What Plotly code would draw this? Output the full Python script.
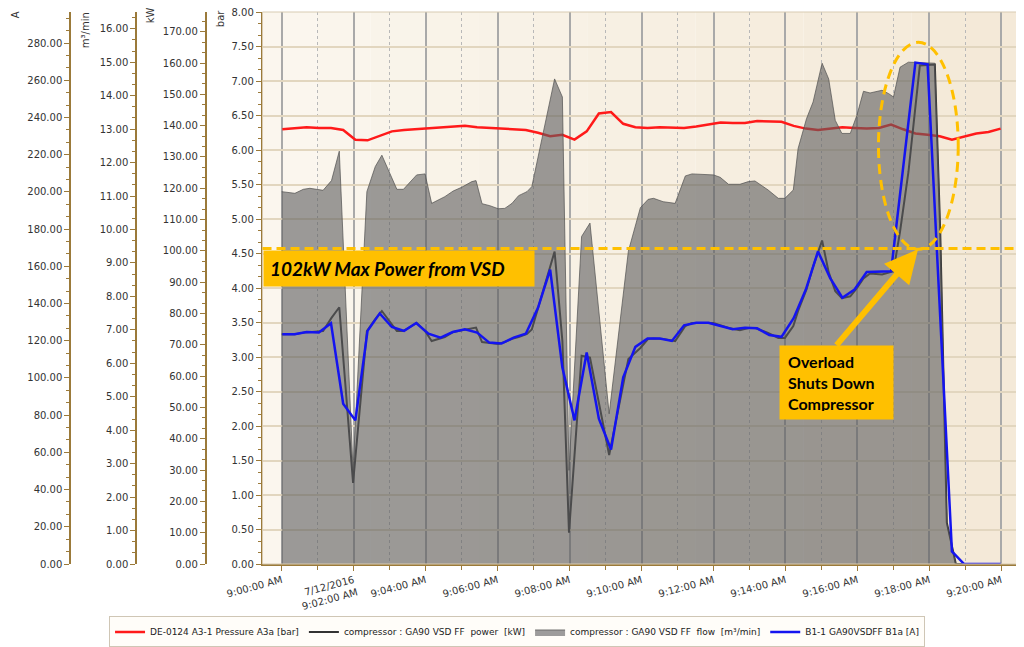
import pandas as pd
import plotly.graph_objects as go

DAY = "2016-07-12 "

# pressure / motor current logger, a sample roughly every 20 s
logger_times = pd.date_range(DAY + "09:00:01", periods=60, freq="20300ms")

pressure_bar = [6.30, 6.32, 6.33, 6.32, 6.32, 6.29, 6.15, 6.14, 6.20, 6.27,
                6.29, 6.30, 6.32, 6.32, 6.34, 6.35, 6.33, 6.32, 6.32, 6.30,
                6.29, 6.25, 6.20, 6.22, 6.15, 6.27, 6.53, 6.55, 6.38, 6.33,
                6.32, 6.33, 6.33, 6.32, 6.34, 6.37, 6.40, 6.39, 6.39, 6.42,
                6.42, 6.41, 6.35, 6.31, 6.29, 6.31, 6.33, 6.32, 6.31, 6.32,
                6.37, 6.30, 6.24, 6.22, 6.20, 6.15, 6.20, 6.24, 6.26, 6.31]

current_a = [123.5, 123.5, 124.7, 124.4, 129.4, 86.1, 77.2, 125.3, 134.7, 127.4,
             125.3, 129.5, 123.8, 121.7, 124.7, 126.2, 124.4, 119.0, 118.5, 121.7,
             123.8, 137.7, 158.2, 105.7, 77.2, 113.7, 78.1, 61.5, 100.3, 116.7,
             121.2, 121.2, 119.9, 128.3, 129.7, 129.7, 127.9, 126.2, 127.0, 126.7,
             123.1, 122.1, 132.1, 147.5, 168.0, 153.7, 143.1, 147.5, 156.9, 157.3,
             157.3, 213.4, 269.5, 268.6, 141.0, 6.8, 0.0, 0.0, 0.0, 0.0]

# compressor controller samples (power and flow come from the same unit)
comp_clock = ["09:00:00", "09:00:22", "09:00:36", "09:00:47", "09:01:09", "09:01:23",
              "09:01:36", "09:01:59", "09:02:22", "09:02:36", "09:02:47", "09:03:12",
              "09:03:23", "09:03:45", "09:03:59", "09:04:10", "09:04:32", "09:04:46",
              "09:05:00", "09:05:17", "09:05:24", "09:05:34", "09:05:47", "09:06:01",
              "09:06:12", "09:06:24", "09:06:35", "09:06:49", "09:06:57", "09:07:16",
              "09:07:35", "09:07:48", "09:07:59", "09:08:20", "09:08:34", "09:09:06",
              "09:09:38", "09:09:58", "09:10:11", "09:10:20", "09:10:36", "09:10:56",
              "09:11:13", "09:11:24", "09:12:00", "09:12:11", "09:12:25", "09:12:44",
              "09:12:58", "09:13:09", "09:13:31", "09:13:48", "09:13:59", "09:14:13",
              "09:14:21", "09:14:35", "09:14:46", "09:15:01", "09:15:12", "09:15:23",
              "09:15:34", "09:15:48", "09:15:59", "09:16:10", "09:16:21", "09:16:41",
              "09:16:52", "09:17:00", "09:17:11", "09:17:25", "09:17:44", "09:18:09",
              "09:18:18", "09:18:29", "09:18:44", "09:19:58"]

power_kw = [73.4, 73.4, 73.9, 74.0, 74.4, 78.6, 82.0, 25.9, 74.4, 78.2, 80.8, 74.4,
            74.4, 77.0, 74.4, 71.2, 72.5, 74.1, 74.7, 75.3, 75.5, 70.9, 70.5, 70.3,
            70.9, 71.9, 72.5, 73.5, 74.9, 87.7, 99.8, 71.2, 10.0, 66.5, 65.9, 34.8,
            65.5, 69.0, 71.9, 72.0, 71.9, 71.2, 76.0, 77.0, 77.0, 76.3, 75.4, 74.7,
            75.4, 75.4, 73.8, 72.2, 72.2, 76.0, 80.8, 87.7, 95.0, 103.3, 93.2, 87.1,
            84.9, 85.5, 88.1, 91.2, 92.8, 92.5, 93.1, 93.5, 106.2, 125.2, 159.2, 159.5,
            106.2, 13.2, 0.0, 0.0]

flow_m3min = [11.13, 11.08, 11.20, 11.23, 11.17, 11.46, 12.34, 2.80, 11.13, 11.88, 12.22, 11.20,
              11.20, 11.63, 11.66, 10.78, 10.98, 11.15, 11.26, 11.43, 11.46, 10.77, 10.71, 10.62,
              10.63, 10.78, 11.01, 11.13, 11.28, 12.92, 14.50, 13.96, 2.80, 9.79, 10.19, 4.49,
              9.35, 10.65, 10.90, 10.93, 10.83, 10.78, 11.60, 11.66, 11.63, 11.56, 11.35, 11.35,
              11.43, 11.45, 11.18, 10.93, 10.93, 11.18, 12.42, 13.31, 13.81, 14.97, 14.50, 13.26,
              12.87, 12.87, 13.41, 14.13, 14.08, 14.16, 14.06, 13.96, 14.85, 15.00, 14.98, 14.97,
              9.94, 1.22, 0.0, 0.0]

tick_clock = ["09:00:00", "09:02:00", "09:04:00", "09:06:00", "09:08:00", "09:10:00",
              "09:12:00", "09:14:00", "09:16:00", "09:18:00", "09:20:00"]
tick_labels = ["9:00:00 AM", "7/12/2016<br>9:02:00 AM", "9:04:00 AM", "9:06:00 AM",
               "9:08:00 AM", "9:10:00 AM", "9:12:00 AM", "9:14:00 AM", "9:16:00 AM",
               "9:18:00 AM", "9:20:00 AM"]

vsd_limit_kw = 100.8

# axis ranges
bar_range = [0, 8]
kw_range = [0, 176.3]
flow_range = [0, 16.5]
amp_range = [0, 296.7]

BROWN = "#9b7a3a"
ORANGE = "#ffc000"
TICKFONT = dict(family="DejaVu Sans", size=10, color="#333333")
X0 = 0.2515   # left edge of the plot area (paper units)

comp_times = [DAY + c for c in comp_clock]

fig = go.Figure()
fig.add_trace(go.Scatter(x=logger_times, y=pressure_bar, mode="lines", yaxis="y",
                         name="DE-0124 A3-1 Pressure A3a [bar]",
                         line=dict(color="#ff1a1a", width=2.5)))
fig.add_trace(go.Scatter(x=comp_times, y=power_kw, mode="lines", yaxis="y2",
                         name="compressor : GA90 VSD FF\u00a0 power\u00a0 [kW]",
                         line=dict(color="#333333", width=2)))
fig.add_trace(go.Scatter(x=comp_times, y=flow_m3min, mode="lines", yaxis="y3",
                         name="compressor : GA90 VSD FF\u00a0 flow\u00a0 [m³/min]",
                         fill="tozeroy", fillcolor="rgba(92,92,94,0.6)",
                         line=dict(color="rgba(80,80,80,0.7)", width=1)))
fig.add_trace(go.Scatter(x=logger_times, y=current_a, mode="lines", yaxis="y4",
                         name="B1-1 GA90VSDFF B1a [A]",
                         line=dict(color="#1414f0", width=2.5)))


def side_axis(rng, step, pos=None):
    ax = dict(range=rng, dtick=step, tickformat=".2f", tickfont=TICKFONT,
              showline=True, linecolor=BROWN, linewidth=1.5, automargin=False,
              ticks="outside", ticklen=5, tickcolor=BROWN, zeroline=False,
              ticklabeloverflow="allow",
              minor=dict(dtick=step / 3, ticks="outside", ticklen=3, tickcolor=BROWN))
    if pos is not None:
        ax.update(overlaying="y", anchor="free", position=pos, side="left", showgrid=False)
    return ax


yaxis = side_axis(bar_range, 0.5)
yaxis.update(showgrid=True, gridcolor="#e2d6bf", gridwidth=1.5, domain=[0, 1])

# soft background gradient of the plot area
shapes = []
n_strips = 14
for k in range(n_strips):
    f = k / (n_strips - 1)
    col = "rgb({},{},{})".format(int(251 - 7 * f), int(246 - 13 * f), int(238 - 22 * f))
    shapes.append(dict(type="rect", xref="paper", yref="paper", layer="below",
                       x0=X0 + (1 - X0) * k / n_strips, x1=X0 + (1 - X0) * (k + 1) / n_strips,
                       y0=0, y1=1, fillcolor=col, line=dict(width=0)))
shapes.append(dict(type="rect", xref="paper", yref="paper", x0=X0, x1=1, y0=0, y1=1,
                   line=dict(color="#d8cbb2", width=1)))
shapes.append(dict(type="line", xref="paper", yref="y2", x0=X0, x1=1.004,
                   y0=vsd_limit_kw, y1=vsd_limit_kw,
                   line=dict(color=ORANGE, width=3, dash="9px,5px")))
shapes.append(dict(type="circle", xref="x", yref="y",
                   x0=DAY + "09:16:35", x1=DAY + "09:18:48", y0=4.56, y1=7.56,
                   line=dict(color=ORANGE, width=3, dash="10px,6px")))

annotations = [
    dict(text="A", x=0.0069, y=0.996),
    dict(text="m³/min", x=0.0761, y=0.967),
    dict(text="kW", x=0.1403, y=0.994),
    dict(text="bar", x=0.2095, y=0.987),
]
for a in annotations:
    a.update(xref="paper", yref="paper", showarrow=False, textangle=-90,
             xanchor="center", yanchor="middle",
             font=dict(family="DejaVu Sans", size=10, color="#333333"))

annotations.append(dict(xref="paper", yref="paper", x=0.3861, y=0.5345, showarrow=False,
                        xanchor="center", yanchor="middle",
                        text="<b><i>102kW Max Power from VSD</i></b>", align="left",
                        font=dict(family="Lato", size=19, color="black"),
                        bgcolor=ORANGE, width=258, height=23, borderpad=6))
annotations.append(dict(xref="paper", yref="paper", x=0.8182, y=0.3290, showarrow=False,
                        xanchor="center", yanchor="middle",
                        text="<b>Overload<br>Shuts Down<br>Compressor</b>", align="left",
                        font=dict(family="Lato", size=16, color="black"),
                        bgcolor=ORANGE, width=97, height=57, borderpad=8))
annotations.append(dict(xref="x", yref="y", x=DAY + "09:17:41", y=4.56,
                        axref="x", ayref="y", ax=DAY + "09:15:23", ay=3.15,
                        text="", showarrow=True, arrowhead=2, arrowsize=1.1,
                        arrowwidth=6, arrowcolor=ORANGE, standoff=0))

fig.update_layout(
    width=1016, height=639,
    margin=dict(l=0, r=4, t=4, b=82.5, autoexpand=False),
    paper_bgcolor="white", plot_bgcolor="rgba(0,0,0,0)",
    font=dict(family="DejaVu Sans", size=10, color="#333333"),
    xaxis=dict(domain=[X0, 1], type="date", automargin=False,
               range=[DAY + "08:59:28", DAY + "09:20:31"],
               tickmode="array", tickvals=[DAY + c for c in tick_clock], ticktext=tick_labels,
               tickangle=-15, tickfont=TICKFONT,
               showgrid=True, gridcolor="#a9a9a9", gridwidth=2,
               showline=True, linecolor=BROWN, linewidth=1.5,
               ticks="outside", ticklen=5, tickcolor=BROWN, zeroline=False,
               minor=dict(tick0=DAY + "09:00:00", dtick=60000, showgrid=True,
                          gridcolor="#b8b8b8", griddash="dot", gridwidth=1,
                          ticks="outside", ticklen=4, tickcolor=BROWN)),
    yaxis=yaxis,
    yaxis2=side_axis(kw_range, 10, 0.1952),
    yaxis3=side_axis(flow_range, 1, 0.1265),
    yaxis4=side_axis(amp_range, 20, 0.0613),
    legend=dict(orientation="h", x=0.503, xanchor="center", y=-0.1231, yanchor="middle",
                bordercolor="#cfc6b5", borderwidth=1, bgcolor="#fffdf9",
                font=dict(family="DejaVu Sans", size=9, color="#222222"), itemwidth=30),
    shapes=shapes,
    annotations=annotations,
    showlegend=True,
)

fig.write_html("out.html")
